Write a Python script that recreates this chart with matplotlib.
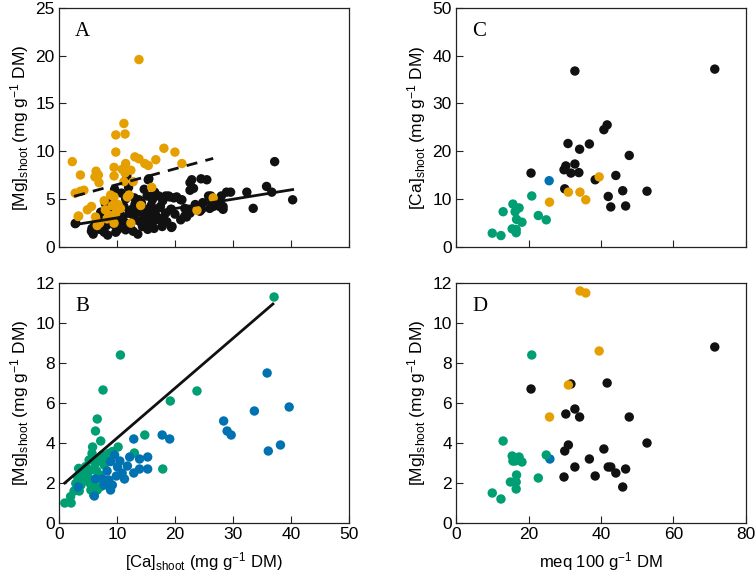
import matplotlib
matplotlib.use("Agg")
import matplotlib.pyplot as plt

plt.rcParams['font.family'] = ['Liberation Sans', 'DejaVu Sans']
plt.rcParams['mathtext.default'] = 'regular'

BLACK = "#111111"
ORANGE = "#E69F00"
GREEN = "#009E73"
BLUE = "#0072B2"

# ---- panel A: [Ca]shoot vs [Mg]shoot ----
a_black = [(37.2,8.9),(40.3,4.9),(35.8,6.3),(36.7,5.7),(28.9,5.7),(29.6,5.7),(25.8,5.3),(26.2,5.3),
           (33.5,4.0),(24.5,7.1),(25.5,7.0),(22.9,7.0),(22.6,6.7),(23.2,6.1),(22.6,5.9),(26.0,5.2),
           (26.6,4.2),(27.7,4.2),(28.3,4.2),(27.2,4.8),(19.1,5.2),(20.3,5.2),(21.0,4.9),(19.4,3.9),
           (21.7,4.0),(22.3,3.9),(21.7,3.2),(24.3,3.7),(22.6,3.5),(19.4,2.0),(28.0,5.3),(32.4,5.7),
           (26.3,4.9),(26.0,4.0),(28.3,3.9),(22.0,3.1),(24.6,3.9),(11.7,7.4),(15.4,7.0),(5.9,1.3),
           (5.7,1.9),(2.8,2.4),(18.9,5.3),(21.2,4.9),(2.9,2.45),(5.6,1.6),(7.0,1.8),(8.0,4.5),
           (8.9,4.9),(8.6,2.8),(10.9,2.1),(10.6,3.3),(12.6,3.9),(13.8,4.9),(15.2,5.3),(16.1,4.9),
           (17.2,5.3),(18.4,5.3),(19.8,5.1),(19.3,3.9),(19.5,2.1),(17.2,2.8),(15.8,3.1),(14.4,2.1),
           (13.2,2.8),(12.1,3.5),(11.5,1.75),(10.1,1.75),(14.9,3.9),(16.7,3.9),(18.4,3.5),(17.8,2.1),
           (15.5,7.1),(9.5,2.3),(10.2,2.6),(11.0,3.0),(11.8,2.4),(12.3,2.0),(12.9,3.2),(13.5,3.6),
           (14.0,2.6),(14.6,3.0),(15.0,2.4),(15.6,3.6),(16.2,2.6),(16.8,3.2),(17.5,4.2),(18.0,3.0),
           (13.1,4.4),(14.2,4.6),(15.9,4.3),(11.2,4.2),(10.0,3.9),(9.1,3.4),(8.2,2.2),(7.5,2.6),
           (6.8,3.0),(6.2,2.3),(7.2,3.6),(9.8,1.5),(12.8,1.6),(16.4,1.9),(18.6,2.6),(20.0,3.4),
           (21.0,2.8),(23.5,4.4),(24.8,4.6),(13.0,5.1),(11.5,5.0),(10.8,5.6),(16.5,5.7),(14.7,6.0),
           (12.0,6.2),(9.6,6.0),(17.9,4.8),(8.4,1.2),(7.8,1.5),(13.6,1.3),(15.3,1.8)]
a_orange = [(13.8,19.6),(11.2,12.9),(9.8,11.7),(11.4,11.8),(2.3,8.9),(9.8,9.9),(13.1,9.4),(13.8,9.2),
            (18.1,10.3),(20.0,9.9),(16.7,9.1),(14.8,8.7),(15.4,8.5),(9.5,8.3),(10.9,8.1),(11.5,8.7),
            (12.4,8.0),(3.7,7.5),(6.4,7.9),(6.8,7.5),(6.2,7.3),(9.5,7.4),(11.4,7.7),(11.2,6.8),
            (12.8,6.8),(6.9,6.7),(16.0,6.2),(2.8,5.6),(3.7,5.8),(4.3,5.9),(8.9,5.4),(9.5,5.2),
            (12.1,5.4),(11.8,5.2),(10.2,4.4),(9.2,4.3),(14.1,4.3),(4.9,3.85),(5.6,4.2),(3.4,3.2),
            (6.3,3.1),(7.0,2.45),(8.0,3.85),(8.6,3.3),(9.8,3.5),(12.4,2.45),(9.5,2.45),(21.2,8.7),
            (26.6,5.1),(23.8,3.8),(3.3,3.15),(7.8,4.8),(10.6,4.0),(8.3,2.9),(6.6,2.2)]
a_solid_x = [2.5, 40.3]
a_solid_y = [2.27, 5.97]
a_dash_x = [2.6, 26.6]
a_dash_y = [5.26, 9.24]

# ---- panel B ----
b_green = [(37.1,11.3),(10.6,8.4),(7.6,6.65),(23.8,6.6),(19.2,6.1),(6.6,5.2),(6.3,4.6),(7.2,4.1),
           (14.8,4.4),(10.2,3.8),(13.0,3.5),(17.9,2.7),(1.0,1.0),(2.1,1.0),(2.0,1.32),(5.7,3.48),
           (5.2,3.15),(4.6,2.82),(3.4,2.73),(3.2,2.32),(2.9,1.98),(4.0,2.15),(6.3,2.98),(6.9,3.15),
           (7.5,3.4),(8.6,3.48),(9.2,3.57),(5.5,2.65),(6.0,1.82),(6.6,1.65),(7.2,1.82),(5.5,1.65),
           (6.0,1.4),(4.3,2.5),(5.0,2.3),(3.8,1.9),(2.6,1.6),(7.8,2.9),(8.1,3.1),(5.8,3.8),
           (5.3,2.0),(4.8,2.7),(6.5,2.6),(7.0,2.4),(3.5,1.6)]
b_blue = [(35.9,7.5),(39.7,5.8),(33.7,5.6),(28.4,5.1),(29.0,4.6),(29.7,4.4),(17.8,4.4),(19.1,4.2),
          (36.1,3.6),(38.2,3.9),(12.9,4.2),(15.3,3.3),(13.9,3.2),(15.3,2.7),(13.9,2.7),(12.9,2.5),
          (11.8,2.85),(3.3,1.8),(6.1,1.35),(8.9,3.07),(10.1,2.8),(10.9,2.5),(8.3,2.6),(7.5,2.2),
          (6.3,2.2),(8.6,2.15),(9.2,1.9),(8.9,1.65),(9.6,3.4),(10.5,3.1),(11.3,2.2),(9.9,2.35),
          (7.8,1.9),(12.2,3.3)]
b_line_x = [1.0, 36.9]
b_line_y = [2.0, 10.95]

# ---- panel C: meq vs [Ca]shoot ----
c_black = [(32.8,36.8),(71.4,37.2),(41.7,25.5),(40.8,24.5),(30.9,21.6),(36.8,21.5),(34.1,20.4),
           (47.8,19.1),(32.8,17.3),(30.3,16.9),(29.8,16.1),(31.7,15.4),(33.9,15.5),(20.7,15.4),
           (44.1,14.9),(38.4,14.0),(30.0,12.1),(46.0,11.7),(52.7,11.6),(42.0,10.5),(42.7,8.3),(46.8,8.5)]
c_orange = [(39.5,14.6),(31.0,11.4),(34.2,11.4),(35.8,9.8),(25.8,9.3)]
c_blue = [(25.7,13.8)]
c_green = [(20.9,10.6),(15.7,8.9),(17.4,8.1),(13.0,7.3),(16.3,7.3),(22.7,6.5),(16.7,5.7),(18.2,5.1),
           (24.9,5.6),(15.5,3.7),(16.6,3.6),(16.6,2.9),(10.0,2.8),(12.4,2.3)]

# ---- panel D: meq vs [Mg]shoot ----
d_black = [(71.4,8.8),(41.7,7.0),(20.7,6.7),(31.7,6.95),(32.8,5.7),(30.3,5.45),(34.1,5.3),(47.8,5.3),
           (52.7,4.0),(31.0,3.9),(30.0,3.6),(40.8,3.7),(36.8,3.2),(42.0,2.8),(42.7,2.8),(44.1,2.5),
           (46.8,2.7),(32.8,2.8),(29.8,2.3),(38.4,2.35),(46.0,1.8)]
d_orange = [(34.2,11.6),(35.8,11.5),(39.5,8.6),(31.0,6.9),(25.8,5.3)]
d_blue = [(25.9,3.2)]
d_green = [(20.9,8.4),(13.0,4.1),(15.5,3.35),(17.4,3.3),(16.3,3.1),(18.2,3.05),(15.7,3.1),(24.9,3.4),
           (16.7,2.4),(15.0,2.05),(16.6,2.05),(22.7,2.25),(16.6,1.7),(10.0,1.5),(12.4,1.2)]

mg_label = r'[Mg]$_{shoot}$ (mg g$^{-1}$ DM)'
ca_label = r'[Ca]$_{shoot}$ (mg g$^{-1}$ DM)'

fig = plt.figure(figsize=(7.55, 5.76), dpi=100)
axA = fig.add_axes([0.0781, 0.572, 0.384, 0.414])
axB = fig.add_axes([0.0781, 0.092, 0.384, 0.4167])
axC = fig.add_axes([0.604, 0.572, 0.384, 0.414])
axD = fig.add_axes([0.604, 0.092, 0.384, 0.4167])


def dots(ax, pts, color):
    xs = [p[0] for p in pts]
    ys = [p[1] for p in pts]
    ax.scatter(xs, ys, s=46, color=color, edgecolors='none', zorder=3)


def style(ax, letter):
    ax.tick_params(direction='in', length=5, width=0.8, labelsize=12.5, pad=3,
                   top=False, right=False, colors='#222222', labelcolor='black')
    for sp in ax.spines.values():
        sp.set_linewidth(0.9)
        sp.set_color('#222222')
    ax.text(0.055, 0.90, letter, transform=ax.transAxes, fontsize=15,
            family='Liberation Serif', va='center', ha='left')


dots(axA, a_black, BLACK)
dots(axA, a_orange, ORANGE)
axA.plot(a_solid_x, a_solid_y, color=BLACK, lw=2, zorder=4)
axA.plot(a_dash_x, a_dash_y, color=BLACK, lw=2, ls=(0, (4, 3)), zorder=4)
axA.set_xlim(0, 50)
axA.set_ylim(0, 25)
axA.set_xticks([0, 10, 20, 30, 40, 50])
axA.set_xticklabels([])
axA.set_yticks([0, 5, 10, 15, 20, 25])
axA.set_ylabel(mg_label, fontsize=12.5, labelpad=3)
style(axA, 'A')

dots(axB, b_green, GREEN)
dots(axB, b_blue, BLUE)
axB.plot(b_line_x, b_line_y, color=BLACK, lw=2, zorder=4)
axB.set_xlim(0, 50)
axB.set_ylim(0, 12)
axB.set_xticks([0, 10, 20, 30, 40, 50])
axB.set_yticks([0, 2, 4, 6, 8, 10, 12])
axB.set_ylabel(mg_label, fontsize=12.5, labelpad=3)
axB.set_xlabel(ca_label, fontsize=12, labelpad=6)
style(axB, 'B')

dots(axC, c_black, BLACK)
dots(axC, c_orange, ORANGE)
dots(axC, c_blue, BLUE)
dots(axC, c_green, GREEN)
axC.set_xlim(0, 80)
axC.set_ylim(0, 50)
axC.set_xticks([0, 20, 40, 60, 80])
axC.set_xticklabels([])
axC.set_yticks([0, 10, 20, 30, 40, 50])
axC.set_ylabel(ca_label, fontsize=12.5, labelpad=3)
style(axC, 'C')

dots(axD, d_black, BLACK)
dots(axD, d_orange, ORANGE)
dots(axD, d_blue, BLUE)
dots(axD, d_green, GREEN)
axD.set_xlim(0, 80)
axD.set_ylim(0, 12)
axD.set_xticks([0, 20, 40, 60, 80])
axD.set_yticks([0, 2, 4, 6, 8, 10, 12])
axD.set_ylabel(mg_label, fontsize=12.5, labelpad=3)
axD.set_xlabel(r'meq 100 g$^{-1}$ DM', fontsize=12, labelpad=6)
style(axD, 'D')

fig.savefig('out.png', dpi=100)
